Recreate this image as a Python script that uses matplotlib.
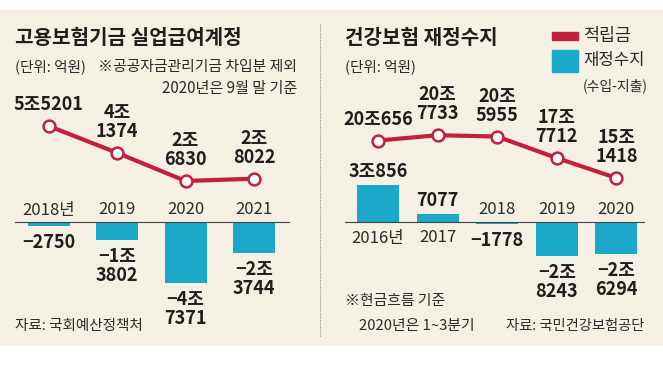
import matplotlib
matplotlib.use("Agg")
import matplotlib.pyplot as plt
from matplotlib.patches import Rectangle

# ---- data (억원) ----
emp_years = ["2018년", "2019", "2020", "2021"]
emp_fund = [55201, 41374, 26830, 28022]
emp_fund_labels = ["5조5201", "4조\n1374", "2조\n6830", "2조\n8022"]
emp_balance = [-2750, -13802, -47371, -23744]
emp_balance_labels = ["−2750", "−1조\n3802", "−4조\n7371", "−2조\n3744"]

hi_years = ["2016년", "2017", "2018", "2019", "2020"]
hi_fund = [200656, 207733, 205955, 177712, 151418]
hi_fund_labels = ["20조656", "20조\n7733", "20조\n5955", "17조\n7712", "15조\n1418"]
hi_balance = [30856, 7077, -1778, -28243, -26294]
hi_balance_labels = ["3조856", "7077", "−1778", "−2조\n8243", "−2조\n6294"]

RED = "#c41f3c"
TEAL = "#1ca8c8"
BG = "#f4f0e3"
TXT = "#2a2a2a"
KR = ["Noto Sans CJK KR", "DejaVu Sans"]
NUM = ["Liberation Sans Narrow", "Noto Sans CJK KR", "DejaVu Sans"]

W, H = 663, 365
fig = plt.figure(figsize=(W / 100, H / 100), dpi=100)
fig.patch.set_facecolor("white")

# pixel-coordinate canvas for background and free text
bg = fig.add_axes([0, 0, 1, 1])
bg.set_xlim(0, W)
bg.set_ylim(H, 0)
bg.axis("off")
bg.add_patch(Rectangle((0, 10), W, 335, color=BG, zorder=0))
bg.plot([320, 320], [24, 337], color="#9a968c", lw=0.8, ls=(0, (1, 1)))

# titles and notes
bg.text(15, 37, "고용보험기금 실업급여계정", family=KR, fontsize=14.5,
        fontweight="bold", va="center", color="#1e1e1e")
bg.text(15, 67, "(단위: 억원)", family=KR, fontsize=10.5, va="center", color=TXT)
bg.text(297, 67, "※공공자금관리기금 차입분 제외", family=KR, fontsize=10.7,
        va="center", ha="right", color=TXT)
bg.text(297, 88, "2020년은 9월 말 기준", family=KR, fontsize=10.9,
        va="center", ha="right", color=TXT)
bg.text(15, 326, "자료: 국회예산정책처", family=KR, fontsize=10.5, va="center",
        color=TXT)

bg.text(345, 37, "건강보험 재정수지", family=KR, fontsize=14.5,
        fontweight="bold", va="center", color="#1e1e1e")
bg.text(345, 67, "(단위: 억원)", family=KR, fontsize=10.5, va="center", color=TXT)
bg.text(345, 301, "※현금흐름 기준", family=KR, fontsize=10.7, va="center", color=TXT)
bg.text(359, 326, "2020년은 1~3분기", family=KR, fontsize=10.7, va="center",
        color=TXT)
bg.text(644, 326, "자료: 국민건강보험공단", family=KR, fontsize=10.3, va="center",
        ha="right", color=TXT)

# legend
bg.add_patch(Rectangle((552, 32), 26, 8, color=RED))
bg.add_patch(Rectangle((552, 50), 26, 22, color=TEAL))
bg.text(583, 36, "적립금", family=KR, fontsize=12.5, va="center", color=TXT)
bg.text(583, 61, "재정수지", family=KR, fontsize=12, va="center", color=TXT)
bg.text(583, 86, "(수입-지출)", family=KR, fontsize=10, va="center", color=TXT)


def panel(x0, x1, c0, step, years, fund, fund_labels, bal, bal_labels,
          bal_scale, fund_ref, fund_ref_y, fund_scale):
    top, bot, base = 90, 320, 222
    rect = [x0 / W, 1 - bot / H, (x1 - x0) / W, (bot - top) / H]
    ax = fig.add_axes(rect)
    ax.set_xlim((x0 - c0) / step, (x1 - c0) / step)
    ax.set_ylim(-(bot - base) / bal_scale, (base - top) / bal_scale)
    ax.axis("off")
    xs = list(range(len(years)))
    ax.bar(xs, bal, width=42 / step, color=TEAL, zorder=2)
    ax.axhline(0, color="#444444", lw=0.8, zorder=3)
    num = dict(family=NUM, fontsize=13, fontweight="bold", linespacing=1.0,
               color="#1e1e1e", ha="center", textcoords="offset pixels")
    yr_kw = dict(family=NUM, fontsize=12, color=TXT, ha="center",
                 va="center", textcoords="offset pixels")
    for x, v, lab, yr in zip(xs, bal, bal_labels, years):
        if v >= 0:
            ax.annotate(lab, (x, v), xytext=(0, 4), va="bottom", **num)
            ax.annotate(yr, (x, 0), xytext=(0, -16), **yr_kw)
        else:
            ax.annotate(lab, (x, v), xytext=(0, -7), va="top", **num)
            ax.annotate(yr, (x, 0), xytext=(0, 12), **yr_kw)

    ax2 = ax.twinx()
    ax2.set_xlim(ax.get_xlim())
    ax2.set_ylim(fund_ref - (bot - fund_ref_y) / fund_scale,
                 fund_ref + (fund_ref_y - top) / fund_scale)
    ax2.axis("off")
    ax2.plot(xs, fund, color=RED, lw=3, marker="o", ms=8.5, mfc="white",
             mec=RED, mew=1.8, zorder=4)
    for x, v, lab in zip(xs, fund, fund_labels):
        ax2.annotate(lab, (x, v), xytext=(0, 12), va="bottom", **num)


panel(15, 290, 48.5, 68.5, emp_years, emp_fund, emp_fund_labels,
      emp_balance, emp_balance_labels, 0.00129, 26830, 181, 0.00194)
panel(345, 645, 378, 59.6, hi_years, hi_fund, hi_fund_labels,
      hi_balance, hi_balance_labels, 0.0012, 151418, 178, 0.00076)

fig.savefig("out.png", dpi=100, facecolor="white")
